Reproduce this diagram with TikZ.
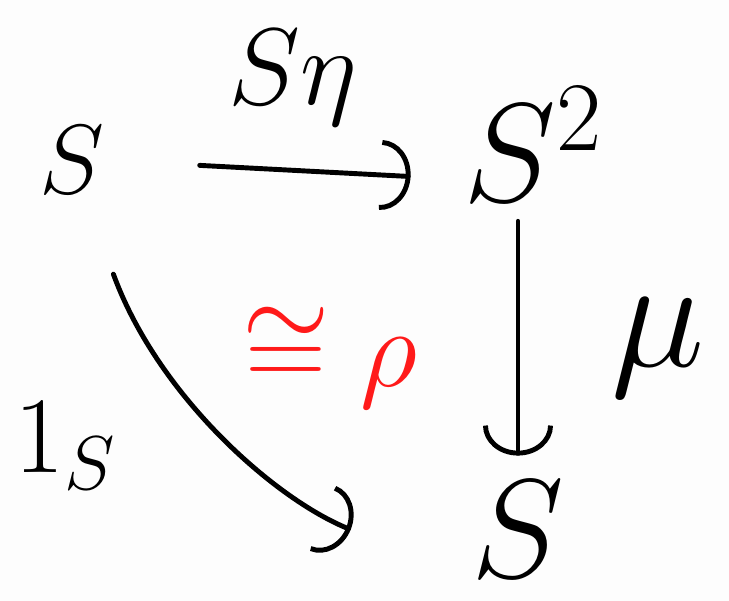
\documentclass[tikz,border=0pt]{standalone}
\usepackage{fix-cm}
\usetikzlibrary{arrows.meta,calc}
\definecolor{paper}{HTML}{FDFDFD}
\definecolor{inkred}{HTML}{FF1A1A}

\begin{document}
\begin{tikzpicture}[>=latex]

% --- Styles ---
\tikzset{
    obj/.style={inner sep=0pt, font=\fontsize{80}{80}\selectfont},
    smallobj/.style={inner sep=0pt, font=\fontsize{56}{56}\selectfont},
    lbl/.style={inner sep=0pt, font=\fontsize{62}{62}\selectfont},
    biglbl/.style={inner sep=0pt, font=\fontsize{90}{90}\selectfont},
    iso/.style={inner sep=0pt, text=inkred, font=\fontsize{64}{64}\selectfont},
    arrow/.style={
        -{Arc Barb[length=0.6cm, width=1.4cm]},
        line width=2.8pt,
        line cap=round,
        draw=black
    }
}

% Background, fixes the page size
\fill[paper] (0,0) rectangle (14.58,12.02);

% Objects
\node[smallobj, anchor=base] (s1) at (1.44, 8.14) {$S$};
\node[obj, anchor=base west] (s2) at (9.26, 7.98) {$S^2$};
\node[obj, anchor=base] (s3) at (10.36, 0.46) {$S$};

% Top arrow: S --> S^2
\draw[arrow, shorten <=1.9cm, shorten >=1.05cm]
    (s1.east) -- ($(s2.west)!0.6!(s2.south west)$);
\node[lbl, anchor=base] (seta) at (5.86, 9.92) {$S\eta$};

% Right arrow: S^2 --> S
\draw[arrow, shorten <=0.38cm, shorten >=0.52cm] (s2.south west -| s3.north) -- (s3.north);
\node[biglbl] (mu) at (13.16, 5.06) {$\mu$};

% Curved arrow: S --> S, the identity
\draw[arrow, shorten <=1.7cm, shorten >=2.6cm] (s1) to[out=-70, in=158] (s3.south west);
\node[lbl, anchor=base west] (ids) at (0.28, 2.56) {$1_S$};

% The 2-cell in the middle
\node[iso] (rho) at (6.6, 4.86) {$\cong\rho$};

\end{tikzpicture}
\end{document}
